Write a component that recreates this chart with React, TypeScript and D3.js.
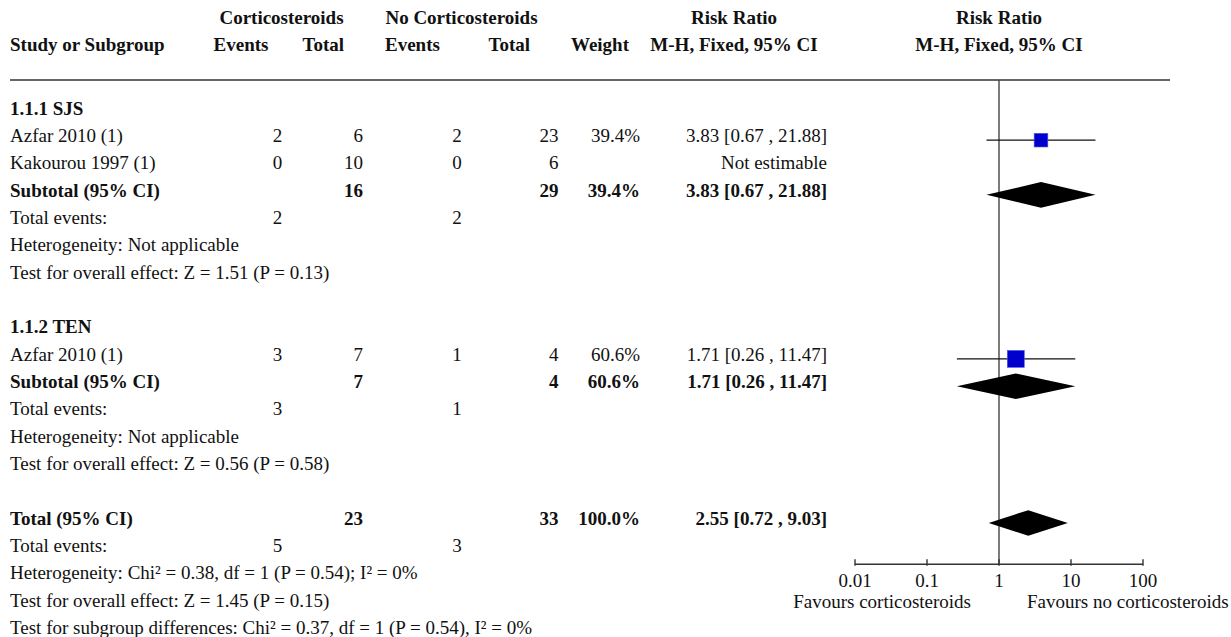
import React from "react";
import * as d3 from "d3";

// ---------- data ----------
const subgroupTitles = ["1.1.1 SJS", "1.1.2 TEN"];
const studyNames = ["Azfar 2010 (1)", "Kakourou 1997 (1)", "Azfar 2010 (1)"];
const studyGroup = [0, 0, 1];
const expEvents = [2, 0, 3];
const expTotals = [6, 10, 7];
const ctlEvents = [2, 0, 1];
const ctlTotals = [23, 6, 4];
const studyWeights: (number | null)[] = [39.4, null, 60.6];
const studyRR: (number | null)[] = [3.83, null, 1.71];
const studyLo: (number | null)[] = [0.67, null, 0.26];
const studyHi: (number | null)[] = [21.88, null, 11.47];

const subExpTotal = [16, 7];
const subCtlTotal = [29, 4];
const subExpEvents = [2, 3];
const subCtlEvents = [2, 1];
const subWeight = [39.4, 60.6];
const subRR = [3.83, 1.71];
const subLo = [0.67, 0.26];
const subHi = [21.88, 11.47];
const subHetText = ["Heterogeneity: Not applicable", "Heterogeneity: Not applicable"];
const subTestText = [
  "Test for overall effect: Z = 1.51 (P = 0.13)",
  "Test for overall effect: Z = 0.56 (P = 0.58)",
];

const totalExp = 23;
const totalCtl = 33;
const totalWeight = 100.0;
const totalRR = 2.55;
const totalLo = 0.72;
const totalHi = 9.03;
const totalExpEvents = 5;
const totalCtlEvents = 3;
const totalFooter = [
  "Heterogeneity: Chi² = 0.38, df = 1 (P = 0.54); I² = 0%",
  "Test for overall effect: Z = 1.45 (P = 0.15)",
  "Test for subgroup differences: Chi² = 0.37, df = 1 (P = 0.54), I² = 0%",
];

const axisTicks = [0.01, 0.1, 1, 10, 100];
const axisTickLabels = ["0.01", "0.1", "1", "10", "100"];
const favourLeft = "Favours corticosteroids";
const favourRight = "Favours no corticosteroids";

// ---------- layout ----------
const W = 1231;
const H = 637;
const FONT = "'Liberation Serif', 'Times New Roman', serif";
const FS = 19;
const TXT = "#111";

const col = {
  name: 10,
  expEv: 277.5,
  expTot: 363,
  ctlEv: 457,
  ctlTot: 558.5,
  weight: 640,
  ci: 827,
};

const x = d3.scaleLog().domain([0.01, 100]).range([855, 1143]);
const y = d3.scaleLinear().domain([0, 19]).range([114.5, 634]);

const fmtCI = (r: number, l: number, h: number) =>
  `${r.toFixed(2)} [${l.toFixed(2)} , ${h.toFixed(2)}]`;
const fmtW = (w: number) => `${w.toFixed(1)}%`;

type Row = {
  idx: number;
  kind: "title" | "study" | "subtotal" | "events" | "text" | "total";
  label: string;
  expEv?: number;
  expTot?: number;
  ctlEv?: number;
  ctlTot?: number;
  weight?: number | null;
  rr?: number | null;
  lo?: number | null;
  hi?: number | null;
};

function buildRows(): Row[] {
  const rows: Row[] = [];
  let r = 0;
  subgroupTitles.forEach((title, g) => {
    rows.push({ idx: r++, kind: "title", label: title });
    studyNames.forEach((n, i) => {
      if (studyGroup[i] !== g) return;
      rows.push({
        idx: r++,
        kind: "study",
        label: n,
        expEv: expEvents[i],
        expTot: expTotals[i],
        ctlEv: ctlEvents[i],
        ctlTot: ctlTotals[i],
        weight: studyWeights[i],
        rr: studyRR[i],
        lo: studyLo[i],
        hi: studyHi[i],
      });
    });
    rows.push({
      idx: r++,
      kind: "subtotal",
      label: "Subtotal (95% CI)",
      expTot: subExpTotal[g],
      ctlTot: subCtlTotal[g],
      weight: subWeight[g],
      rr: subRR[g],
      lo: subLo[g],
      hi: subHi[g],
    });
    rows.push({ idx: r++, kind: "events", label: "Total events:", expEv: subExpEvents[g], ctlEv: subCtlEvents[g] });
    rows.push({ idx: r++, kind: "text", label: subHetText[g] });
    rows.push({ idx: r++, kind: "text", label: subTestText[g] });
    r++; // blank
  });
  rows.push({
    idx: r++,
    kind: "total",
    label: "Total (95% CI)",
    expTot: totalExp,
    ctlTot: totalCtl,
    weight: totalWeight,
    rr: totalRR,
    lo: totalLo,
    hi: totalHi,
  });
  rows.push({ idx: r++, kind: "events", label: "Total events:", expEv: totalExpEvents, ctlEv: totalCtlEvents });
  totalFooter.forEach((t) => rows.push({ idx: r++, kind: "text", label: t }));
  return rows;
}

export default function App() {
  const rows = buildRows();
  const maxW = 100;
  const sq = (w: number) => 21.8 * Math.sqrt(w / maxW);
  const lineTop = 80;
  const axisY = 564.3;
  const nullX = x(1);
  const h1 = 24;
  const h2 = 51;

  return (
    <svg
      width={W}
      height={H}
      style={{ position: "absolute", left: 0, top: 0, display: "block", background: "#fff" }}
      fontFamily={FONT}
      fontSize={FS}
    >
      {/* header */}
      <g fontWeight="bold" fill={TXT}>
        <text x={281.5} y={h1} textAnchor="middle">Corticosteroids</text>
        <text x={461.5} y={h1} textAnchor="middle">No Corticosteroids</text>
        <text x={734} y={h1} textAnchor="middle">Risk Ratio</text>
        <text x={nullX} y={h1} textAnchor="middle">Risk Ratio</text>
        <text x={10} y={h2}>Study or Subgroup</text>
        <text x={241} y={h2} textAnchor="middle">Events</text>
        <text x={344} y={h2} textAnchor="end">Total</text>
        <text x={385} y={h2}>Events</text>
        <text x={530} y={h2} textAnchor="end">Total</text>
        <text x={629} y={h2} textAnchor="end">Weight</text>
        <text x={734} y={h2} textAnchor="middle">M-H, Fixed, 95% CI</text>
        <text x={nullX} y={h2} textAnchor="middle">M-H, Fixed, 95% CI</text>
      </g>
      <line x1={10} x2={1170} y1={lineTop} y2={lineTop} stroke="#333" strokeWidth={1.4} />

      {/* null line */}
      <line x1={nullX} x2={nullX} y1={lineTop} y2={axisY} stroke="#444" strokeWidth={1.4} />

      {/* rows */}
      {rows.map((r) => {
        const yb = y(r.idx);
        const bold = r.kind === "title" || r.kind === "subtotal" || r.kind === "total";
        const fw = bold ? "bold" : "normal";
        const yc = yb - 1.7;
        return (
          <g key={r.idx} fontWeight={fw} fill={TXT}>
            <text x={col.name} y={yb}>{r.label}</text>
            {r.expEv !== undefined && (
              <text x={col.expEv} y={yb} textAnchor="middle">{r.expEv}</text>
            )}
            {r.expTot !== undefined && (
              <text x={col.expTot} y={yb} textAnchor="end">{r.expTot}</text>
            )}
            {r.ctlEv !== undefined && (
              <text x={col.ctlEv} y={yb} textAnchor="middle">{r.ctlEv}</text>
            )}
            {r.ctlTot !== undefined && (
              <text x={col.ctlTot} y={yb} textAnchor="end">{r.ctlTot}</text>
            )}
            {r.weight != null && (
              <text x={col.weight} y={yb} textAnchor="end">{fmtW(r.weight)}</text>
            )}
            {(r.kind === "study" || r.kind === "subtotal" || r.kind === "total") && (
              <text x={col.ci} y={yb} textAnchor="end">
                {r.rr != null ? fmtCI(r.rr, r.lo as number, r.hi as number) : "Not estimable"}
              </text>
            )}
            {r.kind === "study" && r.rr != null && (
              <g>
                <line
                  x1={x(r.lo as number)}
                  x2={x(r.hi as number)}
                  y1={yc}
                  y2={yc}
                  stroke="#111"
                  strokeWidth={1.3}
                />
                <rect
                  x={x(r.rr) - sq(r.weight as number) / 2}
                  y={yc - sq(r.weight as number) / 2}
                  width={sq(r.weight as number)}
                  height={sq(r.weight as number)}
                  fill="#0000cc"
                  stroke="#5555ee"
                  strokeWidth={0.6}
                />
              </g>
            )}
            {(r.kind === "subtotal" || r.kind === "total") && r.rr != null && (
              <path
                d={`M${x(r.lo as number)},${yc} L${x(r.rr)},${yc - 12.8} L${x(r.hi as number)},${yc} L${x(r.rr)},${yc + 12.8} Z`}
                fill="#000"
              />
            )}
          </g>
        );
      })}

      {/* axis */}
      <g stroke="#333" strokeWidth={1.4}>
        <line x1={x(0.01)} x2={x(100)} y1={axisY} y2={axisY} />
        {axisTicks.map((t) => (
          <line key={t} x1={x(t)} x2={x(t)} y1={axisY - 5} y2={axisY + 1.5} />
        ))}
      </g>
      <g fill={TXT}>
        {axisTicks.map((t, i) => (
          <text key={t} x={x(t)} y={586.5} textAnchor="middle">{axisTickLabels[i]}</text>
        ))}
        <text x={nullX - 28} y={607.5} textAnchor="end">{favourLeft}</text>
        <text x={nullX + 28} y={607.5}>{favourRight}</text>
      </g>
    </svg>
  );
}
